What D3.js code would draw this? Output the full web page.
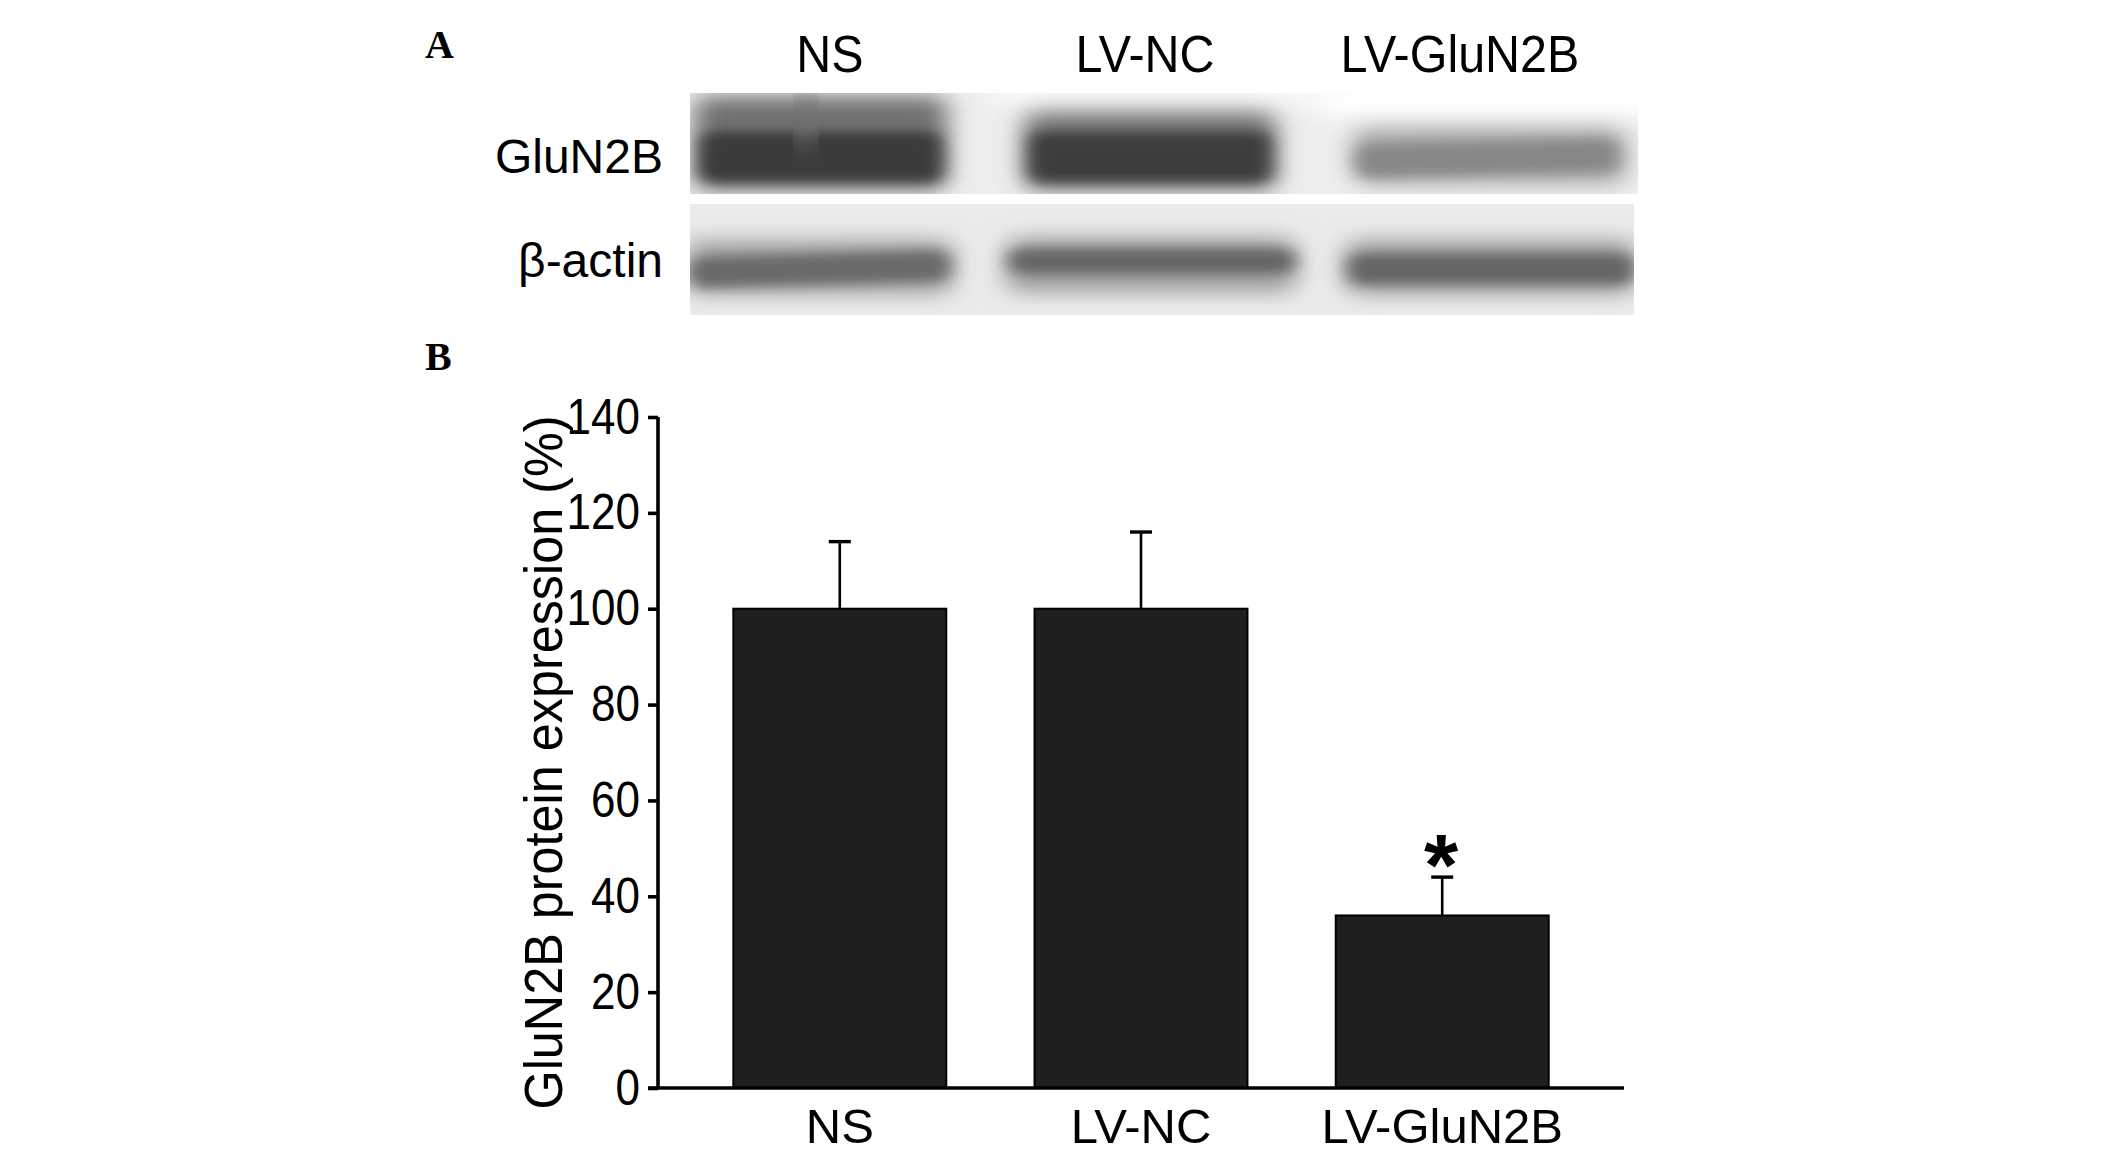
<!DOCTYPE html>
<html>
<head>
<meta charset="utf-8">
<script src="https://cdn.jsdelivr.net/npm/d3@7/dist/d3.min.js"></script>
<style>
body { margin: 0; background: #fff; }
svg { display: block; }
</style>
</head>
<body>
<svg id="fig" width="2126" height="1155"></svg>
<script>
// groups and measured values
var groups = ['NS', 'LV-NC', 'LV-GluN2B'];
var expression = [100, 100, 36];
var sem = [14, 16, 8];
var significant = [false, false, true];
var yTicks = [0, 20, 40, 60, 80, 100, 120, 140];

// band darkness on the blot (0 = blank, 1 = black)
var blotRows = ['GluN2B', '\u03b2-actin'];
var glun2bDensity = [0.86, 0.84, 0.50];
var actinDensity = [0.64, 0.66, 0.66];

var svg = d3.select('#fig');
var sans = '"Liberation Sans", Arial, Helvetica, sans-serif';
var serif = '"Liberation Serif", "Times New Roman", serif';

var defs = svg.append('defs');
function blurFilter(id, sd) {
    defs.append('filter').attr('id', id)
        .attr('x', '-30%').attr('y', '-100%').attr('width', '160%').attr('height', '300%')
        .append('feGaussianBlur').attr('stdDeviation', sd);
}
blurFilter('blur', '9 6');
blurFilter('blurSoft', '13 10');

// squeeze a text horizontally around its anchor point
function squeeze(ax, k) {
    return 'translate(' + ax + ',0) scale(' + k + ',1) translate(' + (-ax) + ',0)';
}

// panel letters
svg.append('text').text('A').attr('x', 425).attr('y', 58)
    .style('font-family', serif).style('font-weight', 'bold').style('font-size', '40px');
svg.append('text').text('B').attr('x', 425).attr('y', 370)
    .style('font-family', serif).style('font-weight', 'bold').style('font-size', '40px');

// ---------- panel A : blot ----------
var lane = d3.scaleBand().domain(groups).range([690, 1612]).paddingInner(0.2);
var laneLabel = d3.scalePoint().domain(groups).range([830, 1460]);
var shade = d3.scaleLinear().domain([0, 1]).range(['#f2f2f2', '#1c1c1c']);

svg.append('g').selectAll('text').data(groups).enter().append('text')
    .text(function (d) { return d; })
    .attr('x', function (d) { return laneLabel(d); })
    .attr('y', 72)
    .attr('text-anchor', 'middle')
    .attr('transform', function (d) { return squeeze(laneLabel(d), 0.95); })
    .style('font-family', sans).style('font-size', '51px');

var rowLabelY = [173, 277];
svg.append('g').selectAll('text').data(blotRows).enter().append('text')
    .text(function (d) { return d; })
    .attr('x', 663)
    .attr('y', function (d, i) { return rowLabelY[i]; })
    .attr('text-anchor', 'end')
    .style('font-family', sans).style('font-size', '48px');

// membrane strips
var upper = { x: 690, y: 93, w: 948, h: 101 };
var lower = { x: 690, y: 204, w: 944, h: 111 };

defs.append('clipPath').attr('id', 'clipUpper').append('rect')
    .attr('x', upper.x).attr('y', upper.y).attr('width', upper.w).attr('height', upper.h);
defs.append('clipPath').attr('id', 'clipLower').append('rect')
    .attr('x', lower.x).attr('y', lower.y).attr('width', lower.w).attr('height', lower.h);

var gu = svg.append('g').attr('clip-path', 'url(#clipUpper)');
gu.append('rect').attr('x', upper.x).attr('y', upper.y).attr('width', upper.w).attr('height', upper.h)
    .attr('fill', '#eeeeee');
// lighter top edge over the right-hand lanes (spliced membrane)
gu.append('rect').attr('x', lane('LV-NC') - 30).attr('y', upper.y - 10).attr('width', upper.w).attr('height', 20)
    .attr('fill', '#fbfbfb').attr('filter', 'url(#blurSoft)');
gu.append('rect').attr('x', lane('LV-GluN2B') - 30).attr('y', upper.y - 10).attr('width', upper.w).attr('height', 34)
    .attr('fill', '#fefefe').attr('filter', 'url(#blurSoft)');

// diffuse smear around the main band
gu.selectAll('rect.smear').data(groups).enter().append('rect')
    .attr('class', 'smear')
    .attr('x', function (d) { return lane(d) + 4; })
    .attr('y', function (d, i) { return i === 0 ? 96 : (i === 1 ? 112 : 128); })
    .attr('width', function (d, i) { return lane.bandwidth() - (i === 2 ? -10 : 10); })
    .attr('height', function (d, i) { return i === 0 ? 94 : (i === 1 ? 78 : 56); })
    .attr('rx', 14)
    .attr('fill', function (d, i) { return shade(glun2bDensity[i] * 0.7); })
    .attr('filter', 'url(#blurSoft)');

gu.selectAll('rect.band').data(groups).enter().append('rect')
    .attr('class', 'band')
    .attr('x', function (d, i) { return lane(d) + (i === 2 ? 8 : 10); })
    .attr('y', function (d, i) { return i === 2 ? 142 : 132; })
    .attr('width', function (d, i) { return lane.bandwidth() - (i === 2 ? 2 : 22); })
    .attr('height', function (d, i) { return i === 2 ? 32 : 50; })
    .attr('rx', 12)
    .attr('fill', function (d, i) { return shade(glun2bDensity[i]); })
    .attr('filter', 'url(#blur)')
    .attr('transform', function (d, i) {
        var cx = lane(d) + lane.bandwidth() / 2;
        return i === 2 ? 'rotate(-1.3,' + cx + ',158)' : null;
    });
// darker streak in the first lane
gu.append('rect').attr('x', lane('NS') + 108).attr('y', 96).attr('width', 16).attr('height', 50)
    .attr('fill', shade(glun2bDensity[0] * 0.7)).attr('filter', 'url(#blurSoft)');

var gl = svg.append('g').attr('clip-path', 'url(#clipLower)');
gl.append('rect').attr('x', lower.x).attr('y', lower.y).attr('width', lower.w).attr('height', lower.h)
    .attr('fill', '#ebebeb');
gl.selectAll('rect.halo').data(groups).enter().append('rect')
    .attr('class', 'halo')
    .attr('x', function (d, i) { return lane(d) + (i === 1 ? -14 : -4); })
    .attr('y', function (d, i) { return i === 1 ? 238 : 240; })
    .attr('width', function (d, i) { return lane.bandwidth() + (i === 0 ? 4 : 28); })
    .attr('height', 54)
    .attr('rx', 14)
    .attr('fill', function (d, i) { return shade(actinDensity[i] * 0.6); })
    .attr('filter', 'url(#blurSoft)');
gl.selectAll('rect.band').data(groups).enter().append('rect')
    .attr('class', 'band')
    .attr('x', function (d, i) { return lane(d) + (i === 1 ? -10 : 0); })
    .attr('y', function (d, i) { return i === 1 ? 249 : 254; })
    .attr('width', function (d, i) { return lane.bandwidth() + (i === 0 ? -4 : 22); })
    .attr('height', function (d, i) { return i === 1 ? 24 : 30; })
    .attr('rx', 12)
    .attr('fill', function (d, i) { return shade(actinDensity[i]); })
    .attr('filter', 'url(#blur)')
    .attr('transform', function (d, i) {
        var cx = lane(d) + lane.bandwidth() / 2;
        return i === 0 ? 'rotate(-1.6,' + cx + ',268)' : null;
    });

// ---------- panel B : bar chart ----------
var x = d3.scaleBand().domain(groups).range([658, 1624]).paddingInner(0.293).paddingOuter(0.25);
var y = d3.scaleLinear().domain([0, 140]).range([1088, 417]);

var chart = svg.append('g');

chart.selectAll('line.err').data(groups).enter().append('line')
    .attr('class', 'err')
    .attr('x1', function (d) { return x(d) + x.bandwidth() / 2; })
    .attr('x2', function (d) { return x(d) + x.bandwidth() / 2; })
    .attr('y1', function (d, i) { return y(expression[i]); })
    .attr('y2', function (d, i) { return y(expression[i] + sem[i]); })
    .attr('stroke', '#000').attr('stroke-width', 2.6);
chart.selectAll('line.cap').data(groups).enter().append('line')
    .attr('class', 'cap')
    .attr('x1', function (d) { return x(d) + x.bandwidth() / 2 - 11; })
    .attr('x2', function (d) { return x(d) + x.bandwidth() / 2 + 11; })
    .attr('y1', function (d, i) { return y(expression[i] + sem[i]); })
    .attr('y2', function (d, i) { return y(expression[i] + sem[i]); })
    .attr('stroke', '#000').attr('stroke-width', 3.4);

chart.selectAll('rect.bar').data(groups).enter().append('rect')
    .attr('class', 'bar')
    .attr('x', function (d) { return x(d); })
    .attr('y', function (d, i) { return y(expression[i]); })
    .attr('width', x.bandwidth())
    .attr('height', function (d, i) { return y(0) - y(expression[i]); })
    .attr('fill', '#1f1f1f')
    .attr('stroke', '#000').attr('stroke-width', 2);

chart.selectAll('text.sig').data(groups.filter(function (d, i) { return significant[i]; }))
    .enter().append('text')
    .attr('class', 'sig')
    .text('*')
    .attr('x', function (d) { return x(d) + x.bandwidth() / 2 - 1; })
    .attr('y', function (d) { var i = groups.indexOf(d); return y(expression[i] + sem[i]) + 18; })
    .attr('text-anchor', 'middle')
    .style('font-family', sans).style('font-weight', 'bold').style('font-size', '88px');

var yAxis = chart.append('g').attr('transform', 'translate(658,0)')
    .call(d3.axisLeft(y).tickValues(yTicks).tickSize(10).tickPadding(8).tickFormat(d3.format('d')));
yAxis.select('.domain').attr('d', 'M0,' + y(140) + 'V' + y(0)).attr('stroke-width', 3.6);
yAxis.selectAll('.tick line').attr('stroke-width', 3.6);
yAxis.selectAll('.tick text')
    .attr('transform', squeeze(-18, 0.88))
    .style('font-family', sans).style('font-size', '50px').attr('fill', '#000');

var xAxis = chart.append('g').attr('transform', 'translate(0,' + y(0) + ')')
    .call(d3.axisBottom(x).tickSize(0).tickPadding(20));
xAxis.select('.domain').attr('d', 'M648,0H1624').attr('stroke-width', 3.6);
xAxis.selectAll('.tick text').style('font-family', sans).style('font-size', '49px').attr('fill', '#000')
    .attr('dy', '0.71em');

chart.append('text')
    .text('GluN2B protein expression (%)')
    .attr('transform', 'translate(562,' + ((1108 + 417) / 2) + ') rotate(-90) scale(0.95,1)')
    .attr('text-anchor', 'middle')
    .style('font-family', sans).style('font-size', '53px');
</script>
</body>
</html>
